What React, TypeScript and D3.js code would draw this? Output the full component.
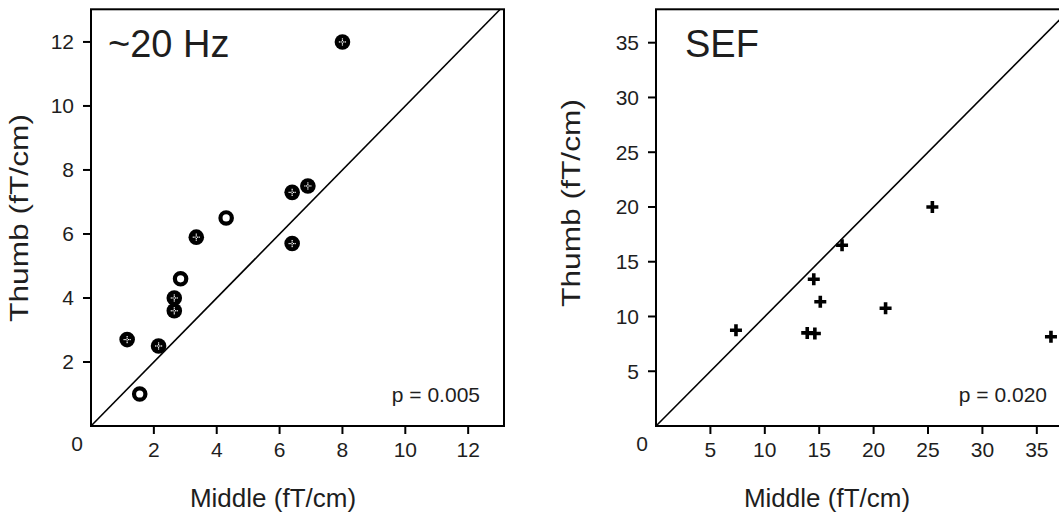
import React from "react";
import * as d3 from "d3";

// ---- data ----
const hzMiddle = [8.0, 6.9, 6.4, 4.3, 3.35, 6.4, 2.85, 2.65, 2.65, 1.15, 2.15, 1.55];
const hzThumb = [12.0, 7.5, 7.3, 6.5, 5.9, 5.7, 4.6, 4.0, 3.6, 2.7, 2.5, 1.0];
const hzOpen = [false, false, false, true, false, false, true, false, false, false, false, true];
const hzTicks = [2, 4, 6, 8, 10, 12];

const sefMiddle = [25.4, 17.1, 14.5, 15.1, 21.1, 7.35, 13.9, 14.6, 36.3];
const sefThumb = [20.0, 16.5, 13.4, 11.35, 10.75, 8.75, 8.5, 8.45, 8.15];
const sefTicks = [5, 10, 15, 20, 25, 30, 35];

const hzTitle = "~20 Hz";
const sefTitle = "SEF";
const hzP = "p = 0.005";
const sefP = "p = 0.020";
const xLabel = "Middle (fT/cm)";
const yLabel = "Thumb (fT/cm)";

const FONT = "'Liberation Sans', Arial, Helvetica, sans-serif";
const TXT = "#1e1e1e";

type PanelProps = {
  xs: d3.ScaleLinear<number, number>;
  ys: d3.ScaleLinear<number, number>;
  ticks: number[];
  title: string;
  titleX: number;
  p: string;
  pX: number;
  xTitleX: number;
  yTitleX: number;
  yTitleY: number;
  children: React.ReactNode;
};

function Panel({ xs, ys, ticks, title, titleX, p, pX, xTitleX, yTitleX, yTitleY, children }: PanelProps) {
  const [x0, x1] = xs.range();
  const [y0, y1] = ys.range();
  const dmax = Math.min(xs.domain()[1], ys.domain()[1]);
  return (
    <g>
      <line x1={xs(0)} y1={ys(0)} x2={xs(dmax)} y2={ys(dmax)} stroke="#000" strokeWidth={1.6} />
      {children}
      <rect x={x0} y={y1} width={x1 - x0} height={y0 - y1} fill="none" stroke="#000" strokeWidth={2} />
      {ticks.map((t) => (
        <g key={"x" + t}>
          <line x1={xs(t)} x2={xs(t)} y1={y0} y2={y0 + 8} stroke="#000" strokeWidth={2} />
          <text x={xs(t)} y={y0 + 31} textAnchor="middle" fontSize={21} fill={TXT} fontFamily={FONT}>
            {t}
          </text>
        </g>
      ))}
      {ticks.map((t) => (
        <g key={"y" + t}>
          <line x1={x0 - 8} x2={x0} y1={ys(t)} y2={ys(t)} stroke="#000" strokeWidth={2} />
          <text x={x0 - 17} y={ys(t) + 7.5} textAnchor="end" fontSize={21} fill={TXT} fontFamily={FONT}>
            {t}
          </text>
        </g>
      ))}
      <text x={x0 - 14} y={y0 + 25} textAnchor="middle" fontSize={21} fill={TXT} fontFamily={FONT}>
        0
      </text>
      <text x={titleX} y={57} fontSize={38} fill={TXT} fontFamily={FONT}>
        {title}
      </text>
      <text x={pX} y={402} textAnchor="end" fontSize={21} fill={TXT} fontFamily={FONT}>
        {p}
      </text>
      <text x={xTitleX} y={507} textAnchor="middle" fontSize={26} fill={TXT} fontFamily={FONT}>
        {xLabel}
      </text>
      <text
        transform={`translate(${yTitleX},${yTitleY}) rotate(-90)`}
        textAnchor="middle"
        fontSize={25}
        fill={TXT}
        fontFamily={FONT}
        textLength={208}
        lengthAdjust="spacingAndGlyphs"
      >
        {yLabel}
      </text>
    </g>
  );
}

export default function App() {
  const xL = d3.scaleLinear().domain([0, 13.14]).range([91, 504]);
  const yL = d3.scaleLinear().domain([0, 13.02]).range([426, 9.3]);
  const xR = d3.scaleLinear().domain([0, 38.05]).range([656, 1070]);
  const yR = d3.scaleLinear().domain([0, 38.05]).range([426, 9.3]);

  const cross = (cx: number, cy: number) =>
    [
      [-3, 0],
      [3, 0],
      [0, -3],
      [0, 3],
      [-1.3, 0],
      [1.3, 0],
      [0, -1.3],
      [0, 1.3],
    ].map(([dx, dy], k) => (
      <rect key={k} x={cx + dx - 0.6} y={cy + dy - 0.6} width={1.2} height={1.2} fill="#fff" />
    ));

  return (
    <svg width={1059} height={513} style={{ position: "absolute", left: 0, top: 0, background: "#fff" }}>
      <rect width={1059} height={513} fill="#fff" />
      <Panel
        xs={xL}
        ys={yL}
        ticks={hzTicks}
        title={hzTitle}
        titleX={108}
        p={hzP}
        pX={480}
        xTitleX={273}
        yTitleX={28}
        yTitleY={218}
      >
        {hzMiddle.map((m, i) => {
          const cx = xL(m);
          const cy = yL(hzThumb[i]);
          if (hzOpen[i]) {
            return <circle key={i} cx={cx} cy={cy} r={5.7} fill="#fff" stroke="#000" strokeWidth={4.2} />;
          }
          return (
            <g key={i}>
              <circle cx={cx} cy={cy} r={7.8} fill="#000" />
              {cross(cx, cy)}
            </g>
          );
        })}
      </Panel>
      <Panel
        xs={xR}
        ys={yR}
        ticks={sefTicks}
        title={sefTitle}
        titleX={685}
        p={sefP}
        pX={1047}
        xTitleX={827}
        yTitleX={580}
        yTitleY={203}
      >
        {sefMiddle.map((m, i) => {
          const cx = xR(m);
          const cy = yR(sefThumb[i]);
          return (
            <path
              key={i}
              d={`M${cx - 6},${cy}H${cx + 6}M${cx},${cy - 6}V${cy + 6}`}
              stroke="#000"
              strokeWidth={3.6}
            />
          );
        })}
      </Panel>
    </svg>
  );
}
